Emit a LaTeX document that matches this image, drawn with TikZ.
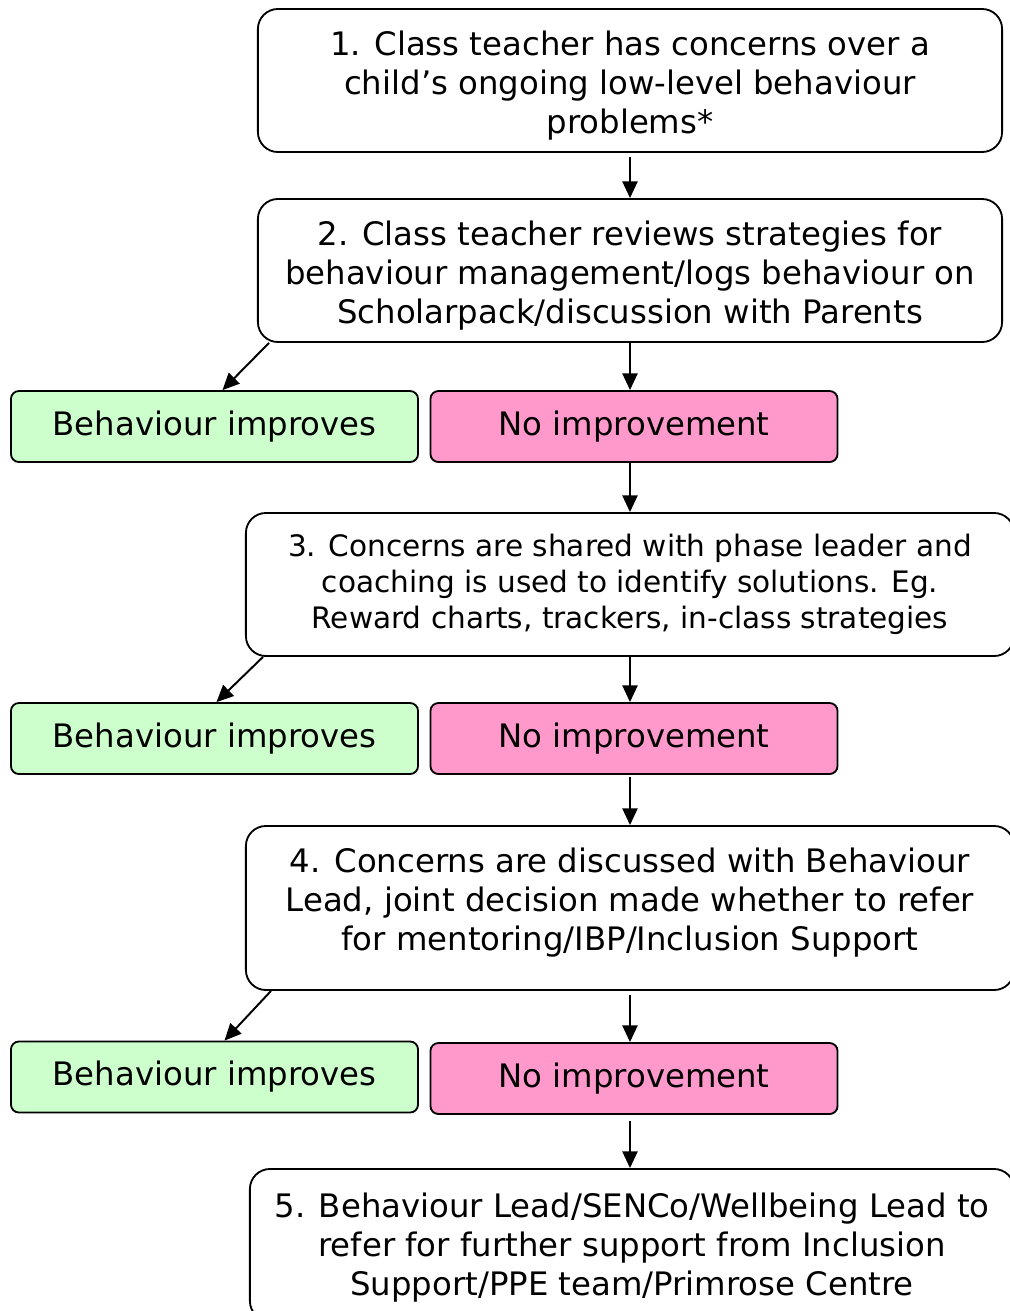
\documentclass[tikz,border=0pt]{standalone}
\usepackage{fontspec}
\setmainfont{DejaVu Sans}
\usetikzlibrary{arrows.meta}

\definecolor{okgreen}{HTML}{CCFFCC}
\definecolor{nopink}{HTML}{FF99CC}

% struts to nudge a box's lines down or up
\newcommand{\pushdown}[1]{\rule{0pt}{#1}}
\newcommand{\pushup}[1]{\rule[-#1]{0pt}{#1}}

\tikzset{
  stage/.style={draw=black,line width=1.3pt,rounded corners=0.5cm,align=center,
    minimum width=18.6cm,minimum height=3.575cm,inner sep=0pt,
    font=\fontsize{23}{27.7}\selectfont},
  outcome/.style={draw=black,line width=1.3pt,rounded corners=0.2cm,
    minimum width=10.175cm,minimum height=1.775cm,inner sep=0pt,
    font=\fontsize{23}{27.7}\selectfont},
  better/.style={outcome,fill=okgreen},
  worse/.style={outcome,fill=nopink},
  arr/.style={-{Triangle[length=0.42cm,width=0.38cm]},line width=1.4pt}
}

\begin{document}
\begin{tikzpicture}[x=0.025cm,y=-0.025cm]
  \useasboundingbox (0,0) rectangle (1010,1311);
  \clip (0,0) rectangle (1010,1311);
  \fill[white] (0,0) rectangle (1010,1311);
  % main steps
  \node[stage] (s1) at (630,80.5) {\pushdown{24.5pt}1. Class teacher has concerns over a\\child’s ongoing low-level behaviour\\problems*};
  \node[stage] (s2) at (630,270.5) {\pushdown{24.5pt}2. Class teacher reviews strategies for\\behaviour management/logs behaviour on\\Scholarpack/discussion with Parents};
  \node[stage,minimum width=19.2cm,font=\fontsize{21}{25.6}\selectfont] (s3) at (630,584.5) {3. Concerns are shared with phase leader and\\coaching is used to identify solutions. Eg.\\Reward charts, trackers, in-class strategies};
  \node[stage,minimum width=19.2cm,minimum height=4.1cm] (s4) at (630,908) {4. Concerns are discussed with Behaviour\\Lead, joint decision made whether to refer\\for mentoring/IBP/Inclusion Support\pushup{12.5pt}};
  \node[stage,minimum width=19.1cm,minimum height=3.8cm] (s5) at (632,1245) {\pushdown{21.5pt}5. Behaviour Lead/SENCo/Wellbeing Lead to\\refer for further support from Inclusion\\Support/PPE team/Primrose Centre};
  % outcomes
  \node[better] (g1) at (214.5,426.5) {Behaviour improves};
  \node[worse] (p1) at (634,426.5) {No improvement};
  \node[better] (g2) at (214.5,738.5) {Behaviour improves};
  \node[worse] (p2) at (634,738.5) {No improvement};
  \node[better] (g3) at (214.5,1077) {Behaviour improves};
  \node[worse] (p3) at (634,1078.5) {No improvement};
  % arrows
  \draw[arr] ([yshift=-0.1cm]s1.south) -- (s2.north);
  \draw[arr] (s2.south) -- (s2.south |- p1.north);
  \draw[arr] ([xshift=0.3cm]s2.south west) -- ([xshift=0.2cm]g1.north);
  \draw[arr] (s3.north |- p1.south) -- (s3.north);
  \draw[arr] (s3.south) -- (s3.south |- p2.north);
  \draw[arr] ([xshift=0.45cm]s3.south west) -- ([xshift=0.05cm]g2.north);
  \draw[arr] ([yshift=-0.05cm]s4.north |- p2.south) -- (s4.north);
  \draw[arr] ([yshift=-0.1cm]s4.south) -- (s4.south |- p3.north);
  \draw[arr] ([xshift=0.65cm]s4.south west) -- ([xshift=0.25cm]g3.north);
  \draw[arr] ([yshift=-0.15cm]s4.south |- p3.south) -- (s4.south |- s5.north);
\end{tikzpicture}
\end{document}
